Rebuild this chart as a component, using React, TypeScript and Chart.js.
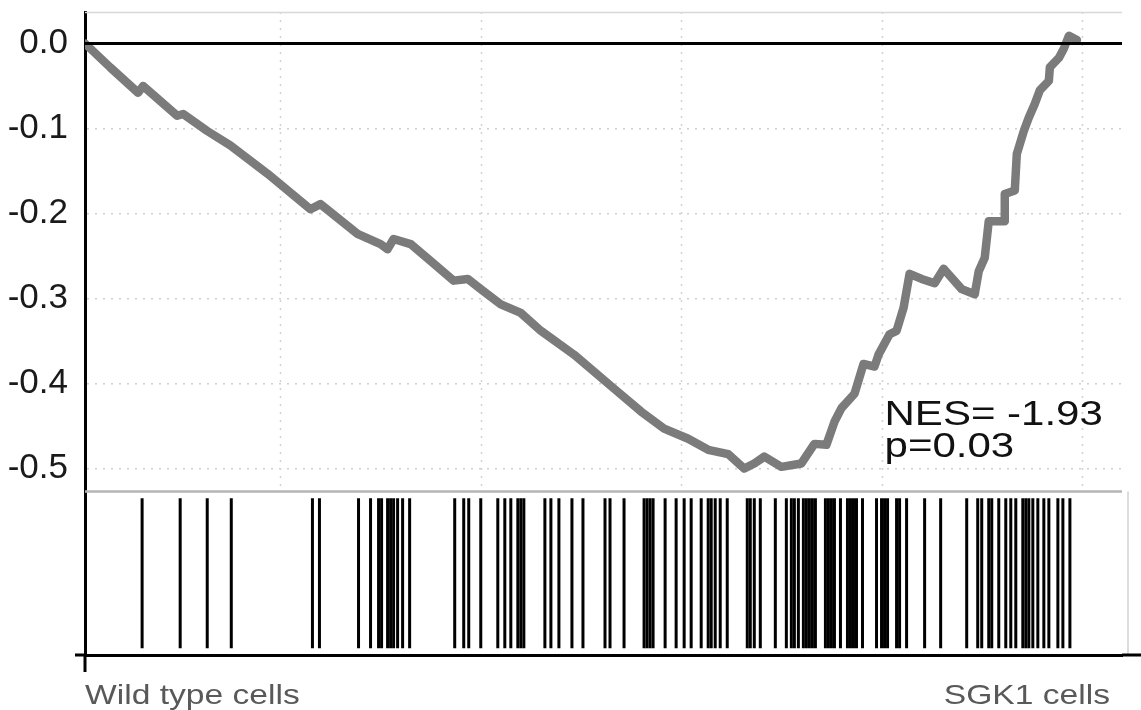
import React, { useEffect, useRef } from "react";
import { Chart, registerables } from "chart.js";

Chart.register(...registerables);

// ---- data ----
const RANK_MAX = 1035;

const esRank = [
  0, 25, 53, 58, 92, 98, 122, 145, 182, 225, 235, 272, 295, 302, 308, 325, 345, 368, 382, 395,
  415, 435, 455, 488, 528, 555, 578, 602, 622, 642, 658, 668, 678, 695, 715, 728, 740, 748, 755, 768,
  777, 788, 792, 803, 810, 817, 823, 835, 848, 857, 875, 888, 892, 898, 902, 918, 918, 928, 930, 937,
  942, 948, 953, 962, 963, 972, 977, 982, 990,
];

const esValue = [
  0, -0.028, -0.058, -0.05, -0.085, -0.083, -0.103, -0.12, -0.153, -0.195, -0.189, -0.224, -0.236, -0.242, -0.23, -0.236, -0.256, -0.279, -0.277, -0.289,
  -0.307, -0.317, -0.338, -0.366, -0.406, -0.433, -0.453, -0.465, -0.478, -0.483, -0.5, -0.494, -0.486, -0.498, -0.494, -0.471, -0.472, -0.445, -0.429, -0.412,
  -0.377, -0.38, -0.366, -0.342, -0.338, -0.311, -0.271, -0.277, -0.282, -0.265, -0.289, -0.295, -0.268, -0.252, -0.209, -0.209, -0.177, -0.173, -0.13, -0.103,
  -0.087, -0.071, -0.055, -0.044, -0.028, -0.017, -0.006, 0.009, 0.004,
];

const hitRanks = [
  57, 95, 122, 146, 227, 234, 273, 285, 293, 296, 302, 305, 308, 312, 317, 324, 369, 378, 383, 395,
  412, 419, 425, 432, 435, 438, 459, 465, 473, 486, 497, 519, 524, 538, 558, 561, 564, 567, 579, 590,
  598, 605, 615, 622, 625, 629, 634, 641, 661, 664, 668, 674, 689, 700, 705, 708, 712, 717, 720, 723,
  726, 729, 739, 742, 745, 748, 754, 761, 764, 767, 770, 776, 790, 795, 798, 801, 810, 813, 820, 838,
  854, 880, 891, 895, 902, 905, 912, 919, 924, 929, 936, 939, 942, 946, 951, 957, 962, 971, 976, 983,
];

const esTickValues = [0, -0.05, -0.1, -0.15, -0.2, -0.25, -0.3, -0.35, -0.4, -0.45, -0.5];
const esLabelValues = [0, -0.1, -0.2, -0.3, -0.4, -0.5];
const xGridRanks = [195, 395, 595, 795, 995];
const sideLabels = ["Wild type cells", "SGK1 cells"];
const statLabels = ["NES= -1.93", "p=0.03"];

const FONT = "'Liberation Sans', Arial, Helvetica, sans-serif";
const STRETCH = 1.2;

const noPad = (scale: any) => {
  scale.paddingTop = 0;
  scale.paddingBottom = 0;
  scale.paddingLeft = 0;
  scale.paddingRight = 0;
};

const drawStretched = (ctx: any, text: string, x: number, y: number, align: "left" | "right") => {
  ctx.save();
  ctx.translate(x, y);
  ctx.scale(STRETCH, 1);
  ctx.textAlign = align;
  ctx.fillText(text, 0, 0);
  ctx.restore();
};

const framePlugin = {
  id: "gseaFrame",
  beforeDatasetsDraw(chart: any) {
    const { ctx } = chart;
    const x = chart.scales.x;
    const y = chart.scales.y;
    ctx.save();
    ctx.strokeStyle = "#d2d2d2";
    ctx.lineWidth = 1.5;
    ctx.setLineDash([2, 6]);
    for (const r of xGridRanks) {
      const px = Math.round(x.getPixelForValue(r)) + 0.5;
      ctx.beginPath();
      ctx.moveTo(px, y.top);
      ctx.lineTo(px, y.bottom);
      ctx.stroke();
    }
    ctx.restore();
  },
  afterDraw(chart: any) {
    const { ctx, chartArea } = chart;
    const x = chart.scales.x;
    const y = chart.scales.y;
    const yh = chart.scales.yHits;
    ctx.save();
    // top border
    ctx.strokeStyle = "#d8d8d8";
    ctx.lineWidth = 1.5;
    ctx.beginPath();
    ctx.moveTo(chartArea.left, chartArea.top + 0.5);
    ctx.lineTo(chartArea.right, chartArea.top + 0.5);
    ctx.stroke();
    // separator between panels
    ctx.strokeStyle = "#b5b5b5";
    ctx.lineWidth = 2.5;
    ctx.beginPath();
    ctx.moveTo(chartArea.left, yh.top);
    ctx.lineTo(chartArea.right, yh.top);
    ctx.stroke();
    // right border of lower panel
    ctx.strokeStyle = "#d0d0d0";
    ctx.lineWidth = 1.5;
    ctx.beginPath();
    ctx.moveTo(chartArea.right + 6, yh.top);
    ctx.lineTo(chartArea.right + 6, yh.bottom);
    ctx.stroke();
    // axis extensions
    ctx.strokeStyle = "#000";
    ctx.lineWidth = 3;
    ctx.beginPath();
    ctx.moveTo(chartArea.left, chartArea.bottom);
    ctx.lineTo(chartArea.left, chartArea.bottom + 17);
    ctx.moveTo(chartArea.left - 10, chartArea.bottom);
    ctx.lineTo(chartArea.left, chartArea.bottom);
    ctx.moveTo(chartArea.right, chartArea.bottom);
    ctx.lineTo(chartArea.right + 21, chartArea.bottom);
    ctx.stroke();
    // statistics text
    ctx.fillStyle = "#111";
    ctx.font = `35px ${FONT}`;
    ctx.textBaseline = "alphabetic";
    const tx = x.getPixelForValue(798);
    const baseY = [y.getPixelForValue(-0.449), y.getPixelForValue(-0.486)];
    statLabels.forEach((t, i) => drawStretched(ctx, t, tx, baseY[i], "left"));
    // group labels under the axis
    ctx.fillStyle = "#595959";
    ctx.font = `28px ${FONT}`;
    const by = chartArea.bottom + 49;
    drawStretched(ctx, sideLabels[0], x.getPixelForValue(0), by, "left");
    drawStretched(ctx, sideLabels[1], x.getPixelForValue(RANK_MAX) - 12, by, "right");
    ctx.restore();
  },
};

export default function App() {
  const canvasRef = useRef<HTMLCanvasElement | null>(null);

  useEffect(() => {
    if (!canvasRef.current) return;
    const chart = new Chart(canvasRef.current, {
      type: "line",
      data: {
        datasets: [
          {
            type: "line",
            label: "zero",
            data: [
              { x: 0, y: 0 },
              { x: RANK_MAX, y: 0 },
            ],
            yAxisID: "y",
            borderColor: "#000",
            borderWidth: 3,
            pointRadius: 0,
          },
          {
            type: "line",
            label: "Enrichment score",
            data: esRank.map((r, i) => ({ x: r, y: esValue[i] })),
            yAxisID: "y",
            borderColor: "#7b7b7b",
            borderWidth: 8.5,
            pointRadius: 0,
            borderJoinStyle: "round",
            borderCapStyle: "round",
            tension: 0,
          },
          {
            type: "scatter",
            label: "Hits",
            data: hitRanks.map((r) => ({ x: r, y: 0.5 })),
            yAxisID: "yHits",
            pointStyle: "line",
            rotation: 90,
            radius: 75,
            hoverRadius: 75,
            borderWidth: 3,
            borderColor: "#000",
            backgroundColor: "#000",
            showLine: false,
          } as any,
        ],
      },
      options: {
        animation: false,
        responsive: false,
        maintainAspectRatio: false,
        layout: { autoPadding: false, padding: { top: 12, right: 19, left: 0, bottom: 0 } },
        plugins: {
          legend: { display: false },
          tooltip: { enabled: false },
          title: { display: false },
        },
        scales: {
          x: {
            type: "linear",
            min: 0,
            max: RANK_MAX,
            grid: { display: false, drawTicks: false },
            border: { display: true, color: "#000", width: 3 },
            afterFit: (scale: any) => {
              scale.height = 55;
              noPad(scale);
            },
            ticks: { display: false },
          },
          yHits: {
            type: "linear",
            position: "left",
            stack: "gsea",
            stackWeight: 163,
            min: 0,
            max: 1,
            afterFit: (scale: any) => {
              scale.width = 85;
              noPad(scale);
            },
            grid: { display: false, drawTicks: false },
            border: { display: true, color: "#000", width: 3 },
            ticks: { display: false },
          },
          y: {
            type: "linear",
            position: "left",
            stack: "gsea",
            stackWeight: 478,
            min: -0.527,
            max: 0.037,
            afterBuildTicks: (scale: any) => {
              scale.ticks = esTickValues.map((v) => ({ value: v }));
            },
            afterFit: (scale: any) => {
              scale.width = 85;
              noPad(scale);
            },
            grid: {
              color: "#cfcfcf",
              lineWidth: 1.5,
              drawTicks: false,
            },
            border: { display: true, color: "#000", width: 3, dash: [2, 6] },
            ticks: {
              padding: 17,
              color: "#1a1a1a",
              font: { family: FONT, size: 35 },
              callback: (v: any) => {
                const n = Number(v);
                return esLabelValues.some((l) => Math.abs(l - n) < 1e-6)
                  ? (Math.abs(n) < 1e-9 ? 0 : n).toFixed(1)
                  : "";
              },
            },
          },
        },
      } as any,
      plugins: [framePlugin],
    });
    return () => chart.destroy();
  }, []);

  return (
    <div style={{ position: "fixed", left: 0, top: 0, width: 1141, height: 710, background: "#fff" }}>
      <canvas ref={canvasRef} width={1141} height={710} style={{ width: 1141, height: 710 }} />
    </div>
  );
}
